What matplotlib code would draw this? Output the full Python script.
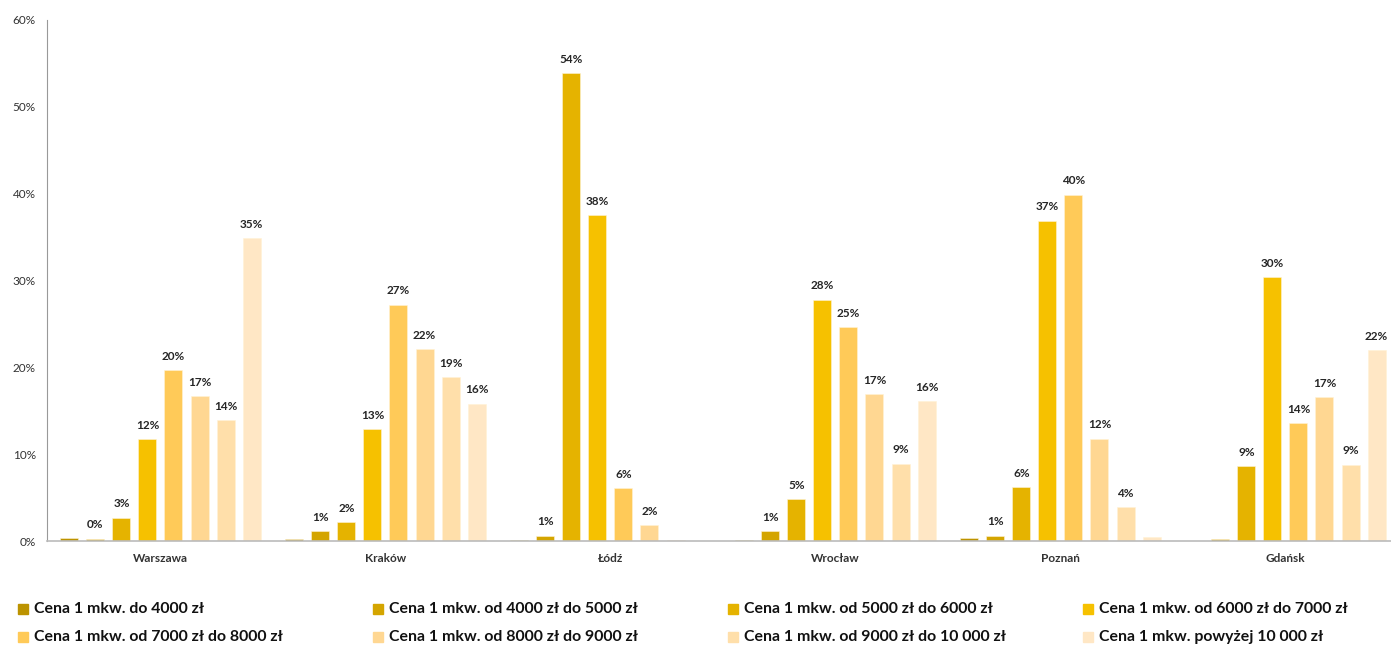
import numpy as np
import matplotlib.pyplot as plt
from matplotlib.patches import Rectangle

# Share of flats per price bracket, by city (percent)
cities = ['Warszawa', 'Kraków', 'Łódź', 'Wrocław', 'Poznań', 'Gdańsk']
series_names = [
    'Cena 1 mkw. do 4000 zł',
    'Cena 1 mkw. od 4000 zł do 5000 zł',
    'Cena 1 mkw. od 5000 zł do 6000 zł',
    'Cena 1 mkw. od 6000 zł do 7000 zł',
    'Cena 1 mkw. od 7000 zł do 8000 zł',
    'Cena 1 mkw. od 8000 zł do 9000 zł',
    'Cena 1 mkw. od 9000 zł do 10 000 zł',
    'Cena 1 mkw. powyżej 10 000 zł',
]
warszawa = [0.35, 0.25, 2.7, 11.7, 19.7, 16.7, 13.9, 34.9]
krakow = [0.2, 1.1, 2.2, 12.9, 27.2, 22.1, 18.9, 15.8]
lodz = [0.15, 0.6, 53.9, 37.5, 6.1, 1.8, 0.1, 0.0]
wroclaw = [0.12, 1.1, 4.8, 27.8, 24.6, 16.9, 8.9, 16.1]
poznan = [0.35, 0.6, 6.2, 36.9, 39.9, 11.8, 3.9, 0.5]
gdansk = [0.0, 0.2, 8.6, 30.4, 13.6, 16.6, 8.8, 22.0]
# which bars carry a data label
labeled = [
    [0, 1, 1, 1, 1, 1, 1, 1],
    [0, 1, 1, 1, 1, 1, 1, 1],
    [0, 1, 1, 1, 1, 1, 0, 0],
    [0, 1, 1, 1, 1, 1, 1, 1],
    [0, 1, 1, 1, 1, 1, 1, 0],
    [0, 0, 1, 1, 1, 1, 1, 1],
]

colors = ['#BC9300', '#D4A500', '#E5B300', '#F6C100',
          '#FFCA58', '#FFD792', '#FFDFAA', '#FFE7C5']

data = np.array([warszawa, krakow, lodz, wroclaw, poznan, gdansk]) / 100.0

plt.rcParams['font.family'] = ['Lato', 'DejaVu Sans']

fig = plt.figure(figsize=(13.91, 6.46), dpi=100)
ax = fig.add_axes([47 / 1391, 1 - 541 / 646, 1 - 47 / 1391, (541 - 20) / 646])

x = np.arange(len(cities))
step = 0.1156
width = 0.08
for j in range(len(series_names)):
    xs = x + (j - 3.5) * step
    ax.bar(xs, data[:, j], width, color=colors[j], edgecolor='#FFF3D6', linewidth=0.4, zorder=2)
    for i in range(len(cities)):
        if labeled[i][j]:
            v = data[i, j]
            ax.annotate(f'{v * 100:.0f}%', (xs[i], v), xytext=(0, 6), textcoords='offset points',
                        ha='center', va='bottom', fontsize=8.5, fontweight='bold', color='#262626')

ax.set_xlim(-0.5044, 5.469)
ax.set_ylim(0, 0.6)
ax.set_yticks(np.arange(0, 0.61, 0.1))
ax.set_yticklabels([f'{t}%' for t in range(0, 61, 10)], fontsize=8.5, color='#333333')
ax.set_xticks(x)
ax.set_xticklabels(cities, fontsize=8.5, fontweight='bold', color='#333333')
ax.tick_params(axis='y', length=0, pad=8)
ax.tick_params(axis='x', length=0, pad=9)
for s in ['top', 'right']:
    ax.spines[s].set_visible(False)
ax.spines['left'].set_color('#999999')
ax.spines['bottom'].set_color('#BBBBBB')
ax.spines['bottom'].set_linewidth(1.2)

# legend: 4 equal columns, 2 rows
col_x = [18, 373, 728, 1083]
row_y = [609, 637]
for k, name in enumerate(series_names):
    r, c = divmod(k, 4)
    px, py = col_x[c], row_y[r]
    fig.add_artist(Rectangle((px / 1391, 1 - (py + 5) / 646), 10 / 1391, 10 / 646,
                             transform=fig.transFigure, color=colors[k]))
    fig.text((px + 16) / 1391, 1 - py / 646, name, fontsize=11.4, fontweight='bold',
             color='#111111', va='center', ha='left')

fig.savefig('out.png', dpi=100)
